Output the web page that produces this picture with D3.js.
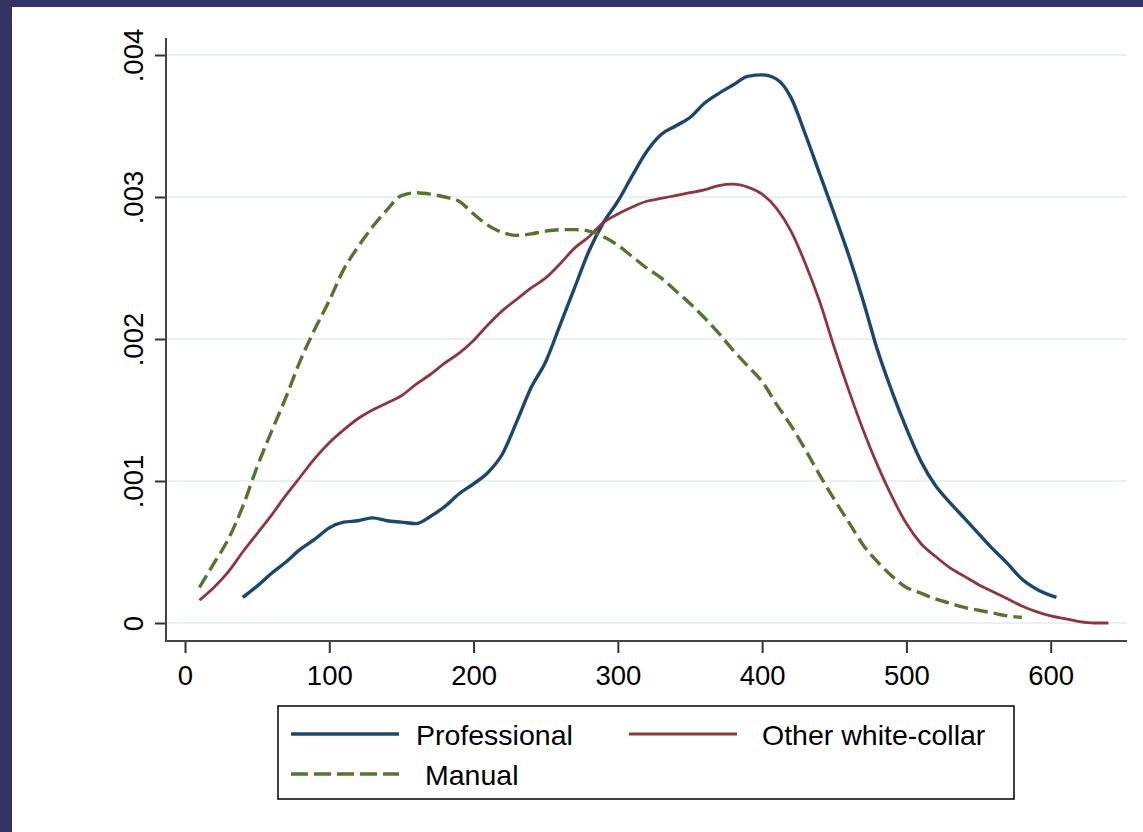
<!DOCTYPE html>
<html>
<head>
<meta charset="utf-8">
<script src="https://cdn.jsdelivr.net/npm/d3@7"></script>
<style>
  body { margin: 0; background: #fff; }
  svg { display: block; font-family: "Liberation Sans", Arial, sans-serif; }
</style>
</head>
<body>
<div id="chart"></div>
<script>
// kernel density estimates
const profX = [40, 50, 60, 70, 80, 90, 100, 110, 120, 130, 140, 150, 160, 170, 180, 190, 200, 210, 220, 230, 240, 250, 260, 270, 280, 290, 300, 310, 320, 330, 340, 350, 360, 370, 380, 390, 400, 410, 420, 430, 440, 450, 460, 470, 480, 490, 500, 510, 520, 530, 540, 550, 560, 570, 580, 590, 604]
const profY = [0.00018, 0.00026, 0.00035, 0.00043, 0.00052, 0.00059, 0.00067, 0.00071, 0.00072, 0.00074, 0.00072, 0.00071, 0.0007, 0.00075, 0.00082, 0.00091, 0.00098, 0.00106, 0.00119, 0.00142, 0.00166, 0.00184, 0.0021, 0.00236, 0.00262, 0.00282, 0.00297, 0.00315, 0.00332, 0.00344, 0.0035, 0.00356, 0.00366, 0.00373, 0.00379, 0.00385, 0.00386, 0.00383, 0.0037, 0.00344, 0.00316, 0.00288, 0.00259, 0.00227, 0.00192, 0.00163, 0.00137, 0.00114, 0.00097, 0.00085, 0.00074, 0.00063, 0.00052, 0.00042, 0.00031, 0.00024, 0.00018]

const otherX = [10, 20, 30, 40, 50, 60, 70, 80, 90, 100, 110, 120, 130, 140, 150, 160, 170, 180, 190, 200, 210, 220, 230, 240, 250, 260, 270, 280, 290, 300, 310, 320, 330, 340, 350, 360, 370, 380, 390, 400, 410, 420, 430, 440, 450, 460, 470, 480, 490, 500, 510, 520, 530, 540, 550, 560, 570, 580, 590, 600, 610, 620, 630, 640]
const otherY = [0.00016, 0.00025, 0.00036, 0.0005, 0.00063, 0.00076, 0.0009, 0.00103, 0.00116, 0.00127, 0.00136, 0.00144, 0.0015, 0.00155, 0.0016, 0.00168, 0.00175, 0.00183, 0.0019, 0.00199, 0.0021, 0.0022, 0.00228, 0.00236, 0.00243, 0.00253, 0.00264, 0.00272, 0.00282, 0.00288, 0.00293, 0.00297, 0.00299, 0.00301, 0.00303, 0.00305, 0.00308, 0.00309, 0.00307, 0.00302, 0.00292, 0.00276, 0.00253, 0.00226, 0.00194, 0.00164, 0.00136, 0.00111, 0.00089, 0.0007, 0.00056, 0.00047, 0.00039, 0.00033, 0.00027, 0.00022, 0.00017, 0.00012, 0.00008, 0.00005, 0.00003, 0.00001, 0.0, 0.0]

const manualX = [10, 20, 30, 40, 50, 60, 70, 80, 90, 100, 110, 120, 130, 140, 150, 160, 170, 180, 190, 200, 210, 220, 230, 240, 250, 260, 270, 280, 290, 300, 310, 320, 330, 340, 350, 360, 370, 380, 390, 400, 410, 420, 430, 440, 450, 460, 470, 480, 490, 500, 510, 520, 530, 540, 550, 560, 570, 580]
const manualY = [0.00025, 0.00042, 0.00059, 0.00082, 0.0011, 0.00135, 0.00159, 0.00185, 0.00207, 0.00227, 0.00249, 0.00265, 0.00279, 0.00291, 0.00301, 0.00303, 0.00302, 0.003, 0.00297, 0.00288, 0.0028, 0.00275, 0.00273, 0.00274, 0.00276, 0.00277, 0.00277, 0.00276, 0.00272, 0.00266, 0.00258, 0.0025, 0.00243, 0.00234, 0.00225, 0.00215, 0.00204, 0.00192, 0.00181, 0.0017, 0.00154, 0.00139, 0.00122, 0.00104, 0.00087, 0.00071, 0.00055, 0.00043, 0.00033, 0.00025, 0.00021, 0.00017, 0.00014, 0.00011, 0.00009, 0.00007, 0.00005, 0.00004]

const seriesNames = ["Professional", "Other white-collar", "Manual"]
const xTicks = [0, 100, 200, 300, 400, 500, 600]
const yTicks = [0, 0.001, 0.002, 0.003, 0.004]
const yTickLabels = ["0", ".001", ".002", ".003", ".004"]

const width = 1143, height = 832

const svg = d3.select("#chart")
    .append("svg")
    .attr("width", width)
    .attr("height", height)

// stata style frame strips
svg.append("rect").attr("x", 0).attr("y", 0).attr("width", width).attr("height", 7).attr("fill", "#333366")
svg.append("rect").attr("x", 0).attr("y", 0).attr("width", 12).attr("height", height).attr("fill", "#333366")

const x = d3.scaleLinear().domain([0, 600]).range([185, 1050.7])
const y = d3.scaleLinear().domain([0, 0.004]).range([623, 55])

const plotLeft = 166, plotRight = 1127, plotTop = 38, plotBottom = 641

// gridlines
svg.append("g")
    .selectAll("line")
    .data(yTicks)
    .join("line")
    .attr("x1", plotLeft)
    .attr("x2", plotRight)
    .attr("y1", d => y(d))
    .attr("y2", d => y(d))
    .attr("stroke", "#eaf1f3")
    .attr("stroke-width", 2)

// y axis
const yAxis = svg.append("g")
    .attr("transform", `translate(${plotLeft},0)`)
    .call(d3.axisLeft(y).tickValues(yTicks).tickSize(11).tickFormat((d, i) => yTickLabels[i]))
yAxis.select(".domain").remove()
yAxis.selectAll(".tick line").attr("stroke", "#333").attr("stroke-width", 2)
yAxis.selectAll(".tick text")
    .attr("x", null).attr("dy", null)
    .attr("transform", "translate(-23,0) rotate(-90)")
    .attr("text-anchor", "middle")
    .attr("font-size", 27.5)
    .attr("fill", "#000")
    .attr("font-family", "Liberation Sans, Arial, sans-serif")

svg.append("line")
    .attr("x1", plotLeft).attr("x2", plotLeft)
    .attr("y1", plotTop).attr("y2", plotBottom + 1)
    .attr("stroke", "#444").attr("stroke-width", 2)

// x axis
const xAxis = svg.append("g")
    .attr("transform", `translate(0,${plotBottom})`)
    .call(d3.axisBottom(x).tickValues(xTicks).tickSize(12).tickFormat(d3.format("d")))
xAxis.select(".domain").remove()
xAxis.selectAll(".tick line").attr("stroke", "#333").attr("stroke-width", 2)
xAxis.selectAll(".tick text")
    .attr("y", 44).attr("dy", null)
    .attr("font-size", 27.5)
    .attr("fill", "#000")
    .attr("font-family", "Liberation Sans, Arial, sans-serif")

svg.append("line")
    .attr("x1", plotLeft - 1).attr("x2", plotRight)
    .attr("y1", plotBottom).attr("y2", plotBottom)
    .attr("stroke", "#444").attr("stroke-width", 2)

// lines
const line = d3.line()
    .x(d => x(d[0]))
    .y(d => y(d[1]))
    .curve(d3.curveMonotoneX)

const series = [
    { name: seriesNames[0], pts: d3.zip(profX, profY), color: "#1a476f", w: 3.4, dash: null },
    { name: seriesNames[1], pts: d3.zip(otherX, otherY), color: "#90353b", w: 2.8, dash: null },
    { name: seriesNames[2], pts: d3.zip(manualX, manualY), color: "#55752f", w: 3.4, dash: "14,6" }
]

svg.append("g")
    .selectAll("path")
    .data(series)
    .join("path")
    .attr("d", d => line(d.pts))
    .attr("fill", "none")
    .attr("stroke", d => d.color)
    .attr("stroke-width", d => d.w)
    .attr("stroke-dasharray", d => d.dash)

// legend
const legend = svg.append("g")
legend.append("rect")
    .attr("x", 278).attr("y", 706)
    .attr("width", 736).attr("height", 93)
    .attr("fill", "#fff")
    .attr("stroke", "#000")
    .attr("stroke-width", 1.5)

const legendPos = [
    { lx: 291, ly: 734, tx: 416, ty: 745 },
    { lx: 629, ly: 734, tx: 762, ty: 745 },
    { lx: 291, ly: 774, tx: 425, ty: 785 }
]

series.forEach((s, i) => {
    const p = legendPos[i]
    legend.append("line")
        .attr("x1", p.lx).attr("x2", p.lx + 108)
        .attr("y1", p.ly).attr("y2", p.ly)
        .attr("stroke", s.color)
        .attr("stroke-width", s.w)
        .attr("stroke-dasharray", s.dash ? "17,6" : null)
    legend.append("text")
        .attr("x", p.tx).attr("y", p.ty)
        .attr("font-size", 28.5)
        .text(s.name)
})
</script>
</body>
</html>
